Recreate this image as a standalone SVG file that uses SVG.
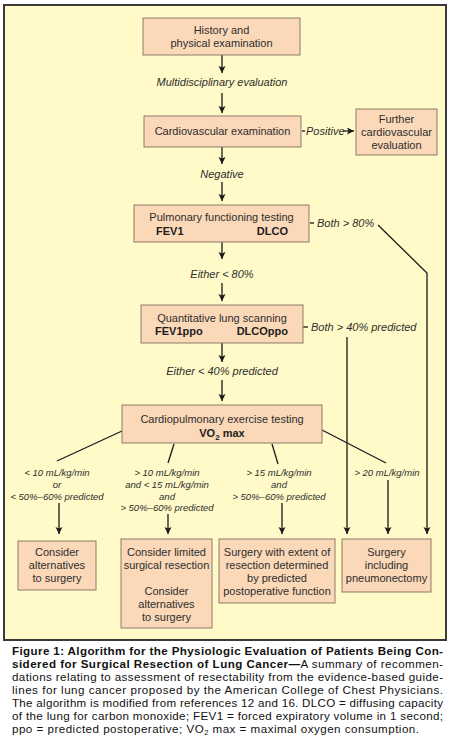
<svg xmlns="http://www.w3.org/2000/svg" width="450" height="743" viewBox="0 0 450 743">
<defs>
<marker id="ah" markerUnits="userSpaceOnUse" markerWidth="8" markerHeight="8" refX="7" refY="3.5" orient="auto">
<path d="M0,0 L7,3.5 L0,7 L1.5,3.5 z" fill="#1a1a1a"/>
</marker>
<style>
.box{fill:#FAD8B8;stroke:#8C7B6B;stroke-width:1}
.t{font-family:"Liberation Sans",Arial,sans-serif;font-size:11px;fill:#2e2e2e;text-anchor:middle}
.b{font-weight:bold;fill:#1e1e1e}
.lab{font-family:"Liberation Sans",Arial,sans-serif;font-size:11px;font-style:italic;fill:#2e2e2e}
.sm{font-family:"Liberation Sans",Arial,sans-serif;font-size:9.5px;font-style:italic;fill:#2e2e2e;text-anchor:middle}
.ln{stroke:#1a1a1a;stroke-width:1.3;fill:none}
.ar{stroke:#1a1a1a;stroke-width:1.3;fill:none;marker-end:url(#ah)}
.cap{font-family:"Liberation Sans",Arial,sans-serif;font-size:11.6px;fill:#111}
</style>
</defs>
<rect width="450" height="743" fill="#ffffff"/>
<rect x="4" y="5" width="442" height="635" fill="#FFFAC8" stroke="#3a3a3a" stroke-width="2"/>

<g id="connectors">
<line class="ar" x1="222" y1="55" x2="222" y2="73"/>
<line class="ar" x1="222" y1="93" x2="222" y2="113"/>
<line class="ar" x1="222" y1="147" x2="222" y2="164"/>
<line class="ar" x1="222" y1="182" x2="222" y2="201"/>
<line class="ar" x1="222" y1="242" x2="222" y2="259"/>
<line class="ar" x1="222" y1="283" x2="222" y2="301"/>
<line class="ar" x1="222" y1="343" x2="222" y2="362"/>
<line class="ar" x1="222" y1="380" x2="222" y2="401"/>
<line class="ln" x1="302" y1="131" x2="305" y2="131"/>
<line class="ar" x1="343" y1="131" x2="354" y2="131"/>
<line class="ln" x1="310" y1="223" x2="314" y2="223"/>
<polyline class="ar" points="378,225 427,273 427,534"/>
<line class="ln" x1="303" y1="327" x2="308" y2="327"/>
<line class="ar" x1="347" y1="337" x2="347" y2="534"/>
<line class="ln" x1="122" y1="431" x2="57" y2="461"/>
<line class="ln" x1="174" y1="444" x2="168" y2="463"/>
<line class="ln" x1="272" y1="444" x2="278" y2="464"/>
<line class="ln" x1="322" y1="430" x2="386" y2="463"/>
<line class="ar" x1="59" y1="503" x2="59" y2="534"/>
<line class="ar" x1="168" y1="514" x2="168" y2="534"/>
<line class="ar" x1="282" y1="503" x2="282" y2="534"/>
<line class="ar" x1="388" y1="480" x2="388" y2="534"/>
<text class="lab" x="222" y="86" text-anchor="middle">Multidisciplinary evaluation</text>
<text class="lab" x="306" y="135">Positive</text>
<text class="lab" x="222" y="178" text-anchor="middle">Negative</text>
<text class="lab" x="317" y="227">Both &gt; 80%</text>
<text class="lab" x="222" y="278" text-anchor="middle">Either &lt; 80%</text>
<text class="lab" x="311" y="331">Both &gt; 40% predicted</text>
<text class="lab" x="222" y="375" text-anchor="middle">Either &lt; 40% predicted</text>
<text class="sm" x="57" y="475.5">&lt; 10 mL/kg/min</text>
<text class="sm" x="57" y="487.5">or</text>
<text class="sm" x="57" y="499.5">&lt; 50%–60% predicted</text>
<text class="sm" x="167" y="475.5">&gt; 10 mL/kg/min</text>
<text class="sm" x="167" y="487.5">and &lt; 15 mL/kg/min</text>
<text class="sm" x="167" y="499.5">and</text>
<text class="sm" x="167" y="511">&gt; 50%–60% predicted</text>
<text class="sm" x="279" y="475.5">&gt; 15 mL/kg/min</text>
<text class="sm" x="279" y="487.5">and</text>
<text class="sm" x="279" y="499.5">&gt; 50%–60% predicted</text>
<text class="sm" x="387" y="475.5">&gt; 20 mL/kg/min</text>
</g>

<g id="history">
<rect class="box" x="143" y="18" width="157" height="37"/>
<text class="t" x="221.5" y="34">History and</text>
<text class="t" x="221.5" y="47">physical examination</text>
</g>
<g id="cardio">
<rect class="box" x="144" y="116" width="157" height="31"/>
<text class="t" x="222.5" y="135">Cardiovascular examination</text>
</g>
<g id="further">
<rect class="box" x="356" y="109" width="81" height="46"/>
<text class="t" x="396.5" y="123">Further</text>
<text class="t" x="396.5" y="136">cardiovascular</text>
<text class="t" x="396.5" y="149">evaluation</text>
</g>
<g id="pulmonary">
<rect class="box" x="134" y="205" width="175" height="37"/>
<text class="t" x="221.5" y="221">Pulmonary functioning testing</text>
<text class="t b" x="156" y="235" style="text-anchor:start">FEV1</text>
<text class="t b" x="288" y="235" style="text-anchor:end">DLCO</text>
</g>
<g id="quantitative">
<rect class="box" x="141" y="305" width="162" height="38"/>
<text class="t" x="222" y="322">Quantitative lung scanning</text>
<text class="t b" x="155" y="335" style="text-anchor:start">FEV1ppo</text>
<text class="t b" x="288" y="335" style="text-anchor:end">DLCOppo</text>
</g>
<g id="cpet">
<rect class="box" x="122" y="405" width="200" height="38"/>
<text class="t" x="222" y="423">Cardiopulmonary exercise testing</text>
<text class="t b" x="222" y="437">VO<tspan font-size="8" dy="2.5">2</tspan><tspan dy="-2.5"> max</tspan></text>
</g>
<g id="alt1">
<rect class="box" x="18" y="541" width="78" height="49"/>
<text class="t" x="57" y="556">Consider</text>
<text class="t" x="57" y="569">alternatives</text>
<text class="t" x="57" y="582">to surgery</text>
</g>
<g id="limited">
<rect class="box" x="121" y="539" width="91" height="89"/>
<text class="t" x="166.5" y="556">Consider limited</text>
<text class="t" x="166.5" y="569">surgical resection</text>
<text class="t" x="166.5" y="595">Consider</text>
<text class="t" x="166.5" y="608">alternatives</text>
<text class="t" x="166.5" y="621">to surgery</text>
</g>
<g id="extent">
<rect class="box" x="219" y="539" width="116" height="64"/>
<text class="t" x="277" y="556">Surgery with extent of</text>
<text class="t" x="277" y="569">resection determined</text>
<text class="t" x="277" y="582">by predicted</text>
<text class="t" x="277" y="595">postoperative function</text>
</g>
<g id="pneumo">
<rect class="box" x="342" y="539" width="89" height="53"/>
<text class="t" x="386.5" y="556">Surgery</text>
<text class="t" x="386.5" y="569">including</text>
<text class="t" x="386.5" y="582">pneumonectomy</text>
</g>

<g id="caption">
<text class="cap" x="12" y="655" font-weight="bold" textLength="431" lengthAdjust="spacing">Figure 1: Algorithm for the Physiologic Evaluation of Patients Being Con-</text>
<text class="cap" x="12" y="668" textLength="431" lengthAdjust="spacing"><tspan font-weight="bold">sidered for Surgical Resection of Lung Cancer—</tspan>A summary of recommen-</text>
<text class="cap" x="12" y="681" textLength="431" lengthAdjust="spacing">dations relating to assessment of resectability from the evidence-based guide-</text>
<text class="cap" x="12" y="694" textLength="431" lengthAdjust="spacing">lines for lung cancer proposed by the American College of Chest Physicians.</text>
<text class="cap" x="12" y="707" textLength="431" lengthAdjust="spacing">The algorithm is modified from references 12 and 16. DLCO = diffusing capacity</text>
<text class="cap" x="12" y="720" textLength="431" lengthAdjust="spacing">of the lung for carbon monoxide; FEV1 = forced expiratory volume in 1 second;</text>
<text class="cap" x="12" y="733" textLength="407" lengthAdjust="spacing">ppo = predicted postoperative; VO<tspan font-size="7.5" dy="2">2</tspan><tspan dy="-2"> max = maximal oxygen consumption.</tspan></text>
</g>
</svg>
